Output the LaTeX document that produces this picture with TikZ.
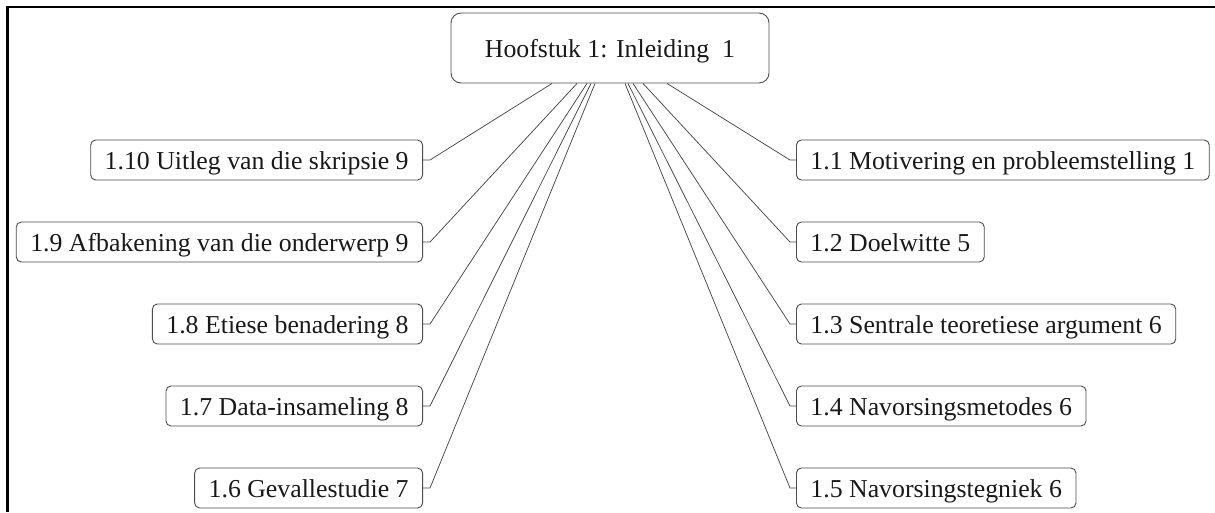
\documentclass[tikz,border=0pt]{standalone}
\usepackage{fontspec}
\setmainfont{Liberation Serif}
\begin{document}
\begin{tikzpicture}[x=1pt,y=-1pt,
  every node/.style={font=\fontsize{25.8}{30}\selectfont, text=black!90},
  topic/.style={draw=black!70, line width=0.9pt, rounded corners=10pt,
    minimum width=318pt, minimum height=70pt, inner sep=0pt,
    text height=21pt, text depth=3pt},
  sub/.style={draw=black!70, line width=0.9pt, rounded corners=5pt,
    inner xsep=14pt, inner ysep=8pt, text height=21pt, text depth=3pt},
  link/.style={draw=black!72, line width=0.75pt}]
\useasboundingbox (0,0) rectangle (1215,512);
% page frame (top and left edges)
\draw[line width=2.2pt] (7.5,512) -- (7.5,7) -- (1215,7);

% chapter heading
\node[topic] (main) at (610,48) {Hoofstuk 1: Inleiding\ \ 1};

% sections on the right
\node[sub, anchor=west] (s1) at (796,160) {1.1 Motivering en probleemstelling 1};
\node[sub, anchor=west] (s2) at (796,242) {1.2 Doelwitte 5};
\node[sub, anchor=west] (s3) at (796,324) {1.3 Sentrale teoretiese argument 6};
\node[sub, anchor=west] (s4) at (796,406) {1.4 Navorsingsmetodes 6};
\node[sub, anchor=west] (s5) at (796,488) {1.5 Navorsingstegniek 6};

% sections on the left
\node[sub, anchor=east] (s10) at (423,160) {1.10 Uitleg van die skripsie 9};
\node[sub, anchor=east] (s9) at (423,242) {1.9 Afbakening van die onderwerp 9};
\node[sub, anchor=east] (s8) at (423,324) {1.8 Etiese benadering 8};
\node[sub, anchor=east] (s7) at (423,406) {1.7 Data-insameling 8};
\node[sub, anchor=east] (s6) at (423,488) {1.6 Gevallestudie 7};

% connectors from the heading to each section
\draw[link] ([xshift=57pt]main.south) -- ([xshift=-6pt]s1.west) -- (s1.west);
\draw[link] ([xshift=33pt]main.south) -- ([xshift=-6pt]s2.west) -- (s2.west);
\draw[link] ([xshift=23pt]main.south) -- ([xshift=-6pt]s3.west) -- (s3.west);
\draw[link] ([xshift=18pt]main.south) -- ([xshift=-6pt]s4.west) -- (s4.west);
\draw[link] ([xshift=15pt]main.south) -- ([xshift=-6pt]s5.west) -- (s5.west);

\draw[link] ([xshift=-58pt]main.south) -- ([xshift=7pt]s10.east) -- (s10.east);
\draw[link] ([xshift=-33pt]main.south) -- ([xshift=7pt]s9.east) -- (s9.east);
\draw[link] ([xshift=-23pt]main.south) -- ([xshift=7pt]s8.east) -- (s8.east);
\draw[link] ([xshift=-19pt]main.south) -- ([xshift=7pt]s7.east) -- (s7.east);
\draw[link] ([xshift=-15pt]main.south) -- ([xshift=7pt]s6.east) -- (s6.east);
\end{tikzpicture}
\end{document}
